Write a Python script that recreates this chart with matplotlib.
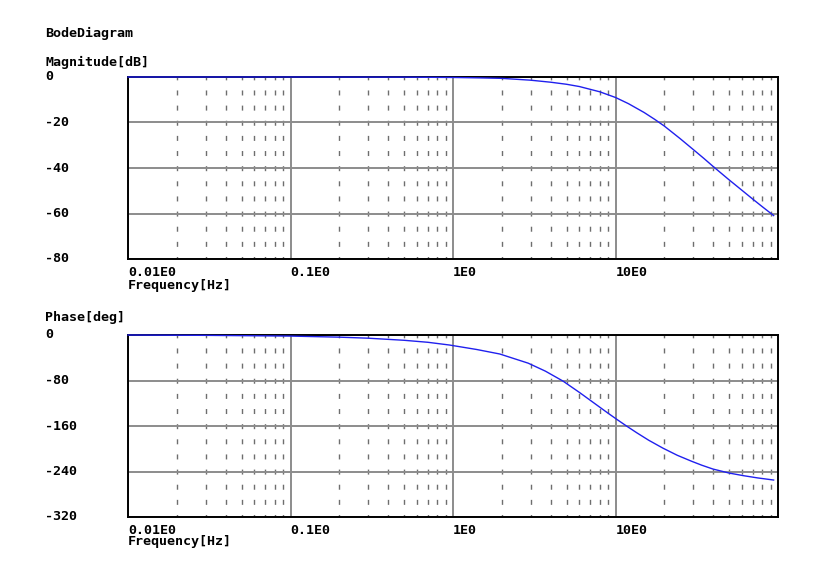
import matplotlib
matplotlib.use("Agg")
import matplotlib.pyplot as plt
from matplotlib.transforms import blended_transform_factory

# values
mag_freq = [0.01, 0.1, 0.5, 1.0, 1.5, 2.0, 3.0, 4.0, 5.0, 6.0, 8.0, 10.0, 12.0, 15.0,
            17.5, 20.0, 22.5, 25.0, 30.0, 35.0, 40.0, 50.0, 60.0, 70.0, 80.0, 94.0]
mag_db = [0.0, 0.0, -0.05, -0.2, -0.4, -0.6, -1.4, -2.3, -3.2, -4.2, -6.5, -9.0, -11.7, -15.6,
          -18.7, -21.6, -24.5, -27.1, -31.8, -35.8, -39.4, -45.2, -49.8, -53.7, -57.0, -60.9]

phase_freq = [0.01, 0.03, 0.1, 0.2, 0.3, 0.5, 0.7, 0.95, 1.4, 1.94, 2.9, 3.7, 4.75, 6.0, 7.66,
              8.9, 10.3, 11.8, 13.5, 16.0, 19.6, 24.0, 29.4, 34.0, 39.8, 50.0, 61.2, 75.0, 94.0]
phase_deg = [0.0, -0.6, -1.9, -3.8, -5.6, -9.3, -12.8, -17.6, -25.5, -33.4, -49.5, -63.5, -81.0, -101.0, -123.0,
             -136.5, -149.3, -160.8, -171.8, -185.0, -199.0, -211.5, -222.0, -229.0, -235.7, -242.7, -247.3, -251.3, -255.0]

x_ticks = [0.01, 0.1, 1.0, 10.0]
x_tick_labels = ["0.01E0", "0.1E0", "1E0", "10E0"]
mag_ticks = [0, -20, -40, -60, -80]
phase_ticks = [0, -80, -160, -240, -320]

W, H = 822, 574
plt.rcParams['font.family'] = ['DejaVu Sans Mono']
plt.rcParams['font.weight'] = 'bold'
fs = 9.6
fig = plt.figure(figsize=(W / 100, H / 100), dpi=100)
fig.patch.set_facecolor("white")


def px_ax(l, t, r, b):
    return fig.add_axes([l / W, 1 - b / H, (r - l) / W, (b - t) / H])


# minor dash pattern: 3 dashes per gridline interval, one across each gridline
dash = (1.8, (3.6, 7.3))


def setup(ax, yticks, f, data):
    ax.set_xscale("log")
    ax.set_xlim(0.01, 100)
    ax.set_ylim(yticks[-1], yticks[0])
    ax.set_yticks(yticks)
    ax.set_xticks(x_ticks)
    ax.set_xticks([m * d for d in x_ticks for m in range(2, 10)], minor=True)
    ax.set_xticklabels(x_tick_labels, ha="left", fontsize=fs)
    ax.tick_params(axis="both", which="both", length=0)
    ax.tick_params(axis="x", pad=5)
    ax.set_yticklabels([])
    ax.grid(which="major", color="#8c8c8c", linewidth=1.4, linestyle="-", zorder=1)
    ax.grid(which="minor", axis="x", color="#6e6e6e", linewidth=1.0, linestyle=dash, zorder=2)
    for s in ax.spines.values():
        s.set_linewidth(1.4)
        s.set_color("black")
    ax.plot(f, data, color="#2020ee", linewidth=1.0, zorder=5, clip_on=False)
    tr = blended_transform_factory(fig.transFigure, ax.transData)
    for v in yticks:
        ax.text(45 / W, v, str(v), transform=tr, ha="left", va="center", fontsize=fs)


ax1 = px_ax(128, 77, 778, 259)
setup(ax1, mag_ticks, mag_freq, mag_db)
ax2 = px_ax(128, 335, 778, 517)
setup(ax2, phase_ticks, phase_freq, phase_deg)

fig.text(45 / W, 1 - 33 / H, "BodeDiagram", ha="left", va="center", fontsize=fs)
fig.text(45 / W, 1 - 62 / H, "Magnitude[dB]", ha="left", va="center", fontsize=fs)
fig.text(45 / W, 1 - 318 / H, "Phase[deg]", ha="left", va="center", fontsize=fs)
fig.text(128 / W, 1 - 285 / H, "Frequency[Hz]", ha="left", va="center", fontsize=fs)
fig.text(128 / W, 1 - 542 / H, "Frequency[Hz]", ha="left", va="center", fontsize=fs)

fig.savefig("out.png", dpi=100)
